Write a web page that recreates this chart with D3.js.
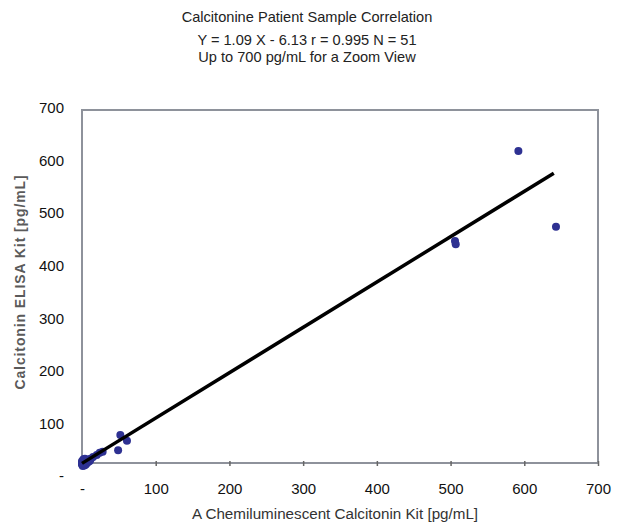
<!DOCTYPE html>
<html>
<head>
<meta charset="utf-8">
<script src="https://cdn.jsdelivr.net/npm/d3@7"></script>
<style>
  html, body { margin: 0; padding: 0; background: #fff; }
  svg { display: block; font-family: "Liberation Sans", Arial, sans-serif; }
</style>
</head>
<body>
<svg id="chart" width="619" height="525"></svg>
<script>
// ---- data ----
const titleLines = ["Calcitonine Patient Sample Correlation",
                    "Y = 1.09 X - 6.13 r = 0.995 N = 51",
                    "Up to 700 pg/mL for a Zoom View"];
const xTitle = "A Chemiluminescent Calcitonin Kit [pg/mL]";
const yTitle = "Calcitonin ELISA Kit [pg/mL]";
const xTicks = [0, 100, 200, 300, 400, 500, 600, 700];
const yTicks = [0, 100, 200, 300, 400, 500, 600, 700];

// patient samples: chemiluminescent kit (x) vs ELISA kit (y)
const sampleX = [0,0,1,1,1,2,2,2,3,3,3,4,4,4,5,5,5,6,6,7,7,8,8,9,10,10,11,12,0,1,2,3,4,5,6,2,3,1,0,4,
                 15,20,24,28,49,52,61,506,507,592,643];
const sampleY = [22,25,21,24,27,23,26,29,22,25,28,24,27,30,23,26,29,25,28,27,30,26,29,31,28,32,30,33,28,29,30,31,21,22,24,32,20,19,24,33,
                 36,40,44,46,49,78,67,447,441,618,474];

// regression line endpoints as drawn
const lineX = [0, 640];
const lineY = [24, 576];

// ---- layout ----
const svg = d3.select("#chart");
const mLeft = 82, mRight = 598, mTop = 110, mBottom = 463;

const x = d3.scaleLinear().domain([0, 700]).range([mLeft, mRight]);
const y = d3.scaleLinear().domain([0, 700]).range([476, 108]);

const fmt = d => d === 0 ? "-" : String(d);

// titles
svg.append("g").selectAll("text").data(titleLines).join("text")
  .attr("x", 307).attr("y", (d, i) => [22, 45, 62][i])
  .attr("text-anchor", "middle").attr("font-size", 14.6).attr("fill", "#222")
  .text(d => d);

// frame
svg.append("rect")
  .attr("x", mLeft).attr("y", mTop).attr("width", mRight - mLeft).attr("height", mBottom - mTop)
  .attr("fill", "none").attr("stroke", "#8e929b").attr("stroke-width", 2);

// x axis
const xAxis = d3.axisBottom(x).tickValues(xTicks).tickFormat(fmt).tickSize(4).tickSizeOuter(0);
const gx = svg.append("g").attr("transform", `translate(0,${mBottom})`).call(xAxis);
gx.select(".domain").remove();
gx.selectAll(".tick line").attr("stroke", "#666").attr("y1", -2).attr("y2", 3).attr("stroke-width", 1.5);
gx.selectAll(".tick text").attr("font-size", 15).attr("fill", "#111").attr("dy", "1.6em")
  .attr("font-family", "Liberation Sans, Arial, sans-serif");
gx.selectAll(".tick").filter(d => d === 0).select("line").remove();

// y axis (labels only)
const yAxis = d3.axisLeft(y).tickValues(yTicks).tickFormat(fmt).tickSize(0);
const gy = svg.append("g").attr("transform", `translate(${mLeft - 15},0)`).call(yAxis);
gy.select(".domain").remove();
gy.selectAll(".tick text").attr("font-size", 15).attr("fill", "#111")
  .attr("font-family", "Liberation Sans, Arial, sans-serif");

// axis titles
svg.append("text").attr("x", 335).attr("y", 519).attr("text-anchor", "middle")
  .attr("font-size", 15.2).attr("fill", "#333").text(xTitle);
svg.append("text").attr("transform", "translate(25,282) rotate(-90)")
  .attr("text-anchor", "middle").attr("font-size", 14).attr("font-weight", "bold")
  .attr("letter-spacing", 0.9).attr("fill", "#5a5a5a").text(yTitle);

// points
const pts = sampleX.map((v, i) => [v, sampleY[i]]);
svg.append("g").selectAll("circle").data(pts).join("circle")
  .attr("cx", d => x(d[0])).attr("cy", d => y(d[1])).attr("r", 4)
  .attr("fill", "#2e3192");

// regression line
svg.append("path")
  .datum(lineX.map((v, i) => [v, lineY[i]]))
  .attr("d", d3.line().x(d => x(d[0])).y(d => y(d[1])))
  .attr("stroke", "#000").attr("stroke-width", 3.5).attr("fill", "none");
</script>
</body>
</html>
